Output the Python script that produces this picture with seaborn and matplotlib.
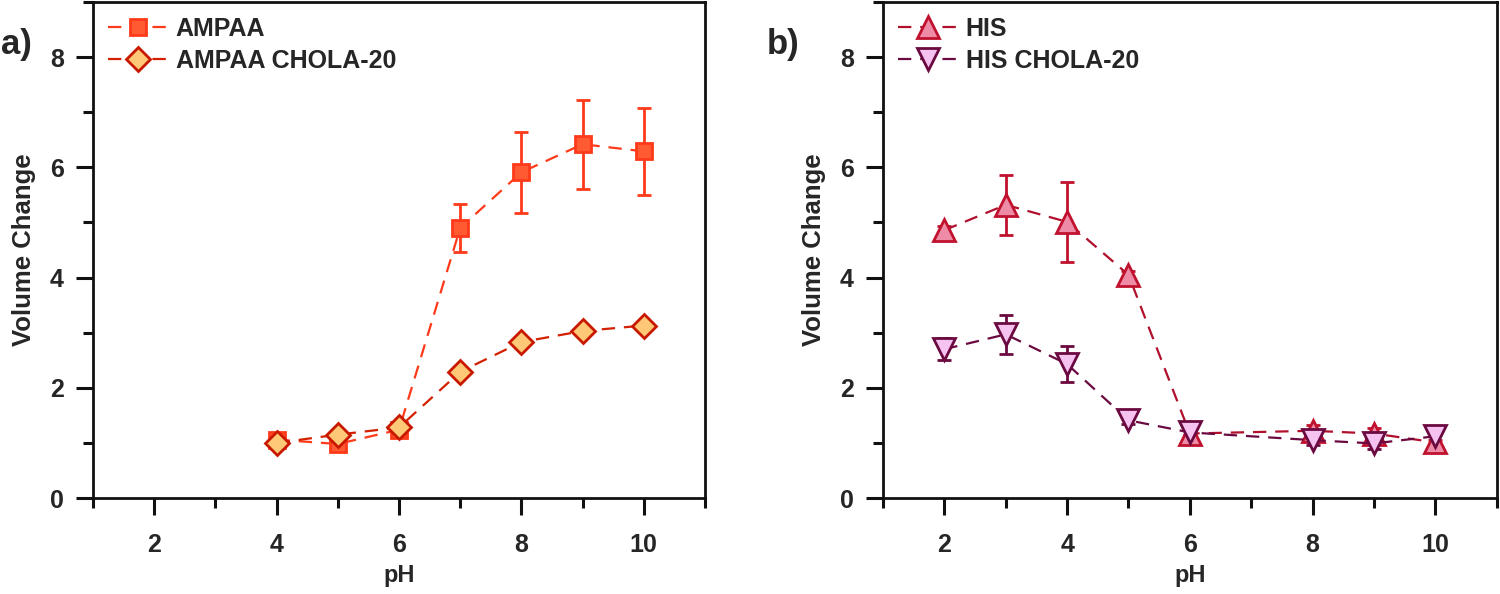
import numpy as np
import pandas as pd
import seaborn as sns
import matplotlib
matplotlib.use('Agg')
import matplotlib.pyplot as plt
from matplotlib.ticker import MultipleLocator

# Panel a data
ph_ampaa = [4, 5, 6, 7, 8, 9, 10]
ampaa = [1.06, 0.98, 1.24, 4.90, 5.91, 6.42, 6.29]
ampaa_err = [0.05, 0.05, 0.06, 0.43, 0.74, 0.81, 0.79]
ampaa_chola = [1.00, 1.15, 1.28, 2.29, 2.83, 3.03, 3.13]
ampaa_chola_err = [0.04, 0.06, 0.08, 0.07, 0.08, 0.08, 0.08]

# Panel b data
ph_his = [2, 3, 4, 5, 6, 8, 9, 10]
his = [4.86, 5.32, 5.01, 4.05, 1.17, 1.22, 1.17, 1.01]
his_err = [0.07, 0.54, 0.73, 0.07, 0.06, 0.10, 0.10, 0.05]
his_chola = [2.70, 2.97, 2.43, 1.41, 1.19, 1.05, 0.99, 1.12]
his_chola_err = [0.20, 0.35, 0.32, 0.06, 0.05, 0.08, 0.10, 0.15]

sns.set_style('white')
plt.rcParams['font.family'] = ['Liberation Sans', 'DejaVu Sans']
plt.rcParams['font.weight'] = 'bold'

fig = plt.figure(figsize=(15, 5.94), dpi=100)
ax_a = fig.add_axes([0.062, 0.1616, 0.408, 0.835])
ax_b = fig.add_axes([0.5887, 0.1616, 0.409, 0.835])


def draw_series(ax, x, y, err, label, marker, ms, fill, edge, line):
    df = pd.DataFrame({'pH': x, 'v': y})
    ax.errorbar(x, y, yerr=err, fmt='none', ecolor=edge, elinewidth=2,
                capsize=5, capthick=2, zorder=2)
    sns.lineplot(data=df, x='pH', y='v', ax=ax, label=label, color=line,
                 linestyle=(0, (6, 4)), linewidth=1.6, marker=marker,
                 markersize=ms, markerfacecolor=fill, markeredgecolor=edge,
                 markeredgewidth=2, zorder=3)


draw_series(ax_a, ph_ampaa, ampaa, ampaa_err, 'AMPAA', 's', 12,
            '#FF5A32', '#FF3A1A', '#FF3A1A')
draw_series(ax_a, ph_ampaa, ampaa_chola, ampaa_chola_err, 'AMPAA CHOLA-20', 'D', 12.5,
            '#FFC876', '#C81800', '#D42000')
draw_series(ax_b, ph_his, his, his_err, 'HIS', '^', 16,
            '#EE8CA8', '#C0122E', '#B0102C')
draw_series(ax_b, ph_his, his_chola, his_chola_err, 'HIS CHOLA-20', 'v', 16,
            '#F6C2F0', '#6B0A40', '#6B0A40')

for ax in [ax_a, ax_b]:
    ax.set_xlim(1, 11)
    ax.set_ylim(0, 9)
    ax.xaxis.set_major_locator(MultipleLocator(2))
    ax.xaxis.set_minor_locator(MultipleLocator(1))
    ax.yaxis.set_major_locator(MultipleLocator(2))
    ax.yaxis.set_minor_locator(MultipleLocator(1))
    ax.set_xticks([2, 4, 6, 8, 10])
    ax.tick_params(which='major', direction='out', length=12, width=2.2,
                   labelsize=18, color='#111111')
    ax.tick_params(axis='x', which='major', pad=13)
    ax.tick_params(axis='y', which='major', pad=9)
    ax.tick_params(which='minor', direction='out', length=7, width=2.2,
                   color='#111111')
    ax.tick_params(axis='both', which='both', bottom=True, left=True)
    for s in ax.spines.values():
        s.set_linewidth(2)
        s.set_color('#111111')
    ax.set_xlabel('pH', fontsize=17, fontweight='bold', labelpad=5)
    ax.set_ylabel('Volume Change', fontsize=18.5, fontweight='bold', labelpad=10)
    ax.legend(loc='upper left', frameon=False, fontsize=18,
              handlelength=2.4, handletextpad=0.3, labelspacing=0.3,
              borderaxespad=0.2)

fig.text(0.001, 0.925, 'a)', fontsize=25, fontweight='bold', ha='left', va='center')
fig.text(0.511, 0.925, 'b)', fontsize=25, fontweight='bold', ha='left', va='center')

fig.savefig('out.png', dpi=100)
